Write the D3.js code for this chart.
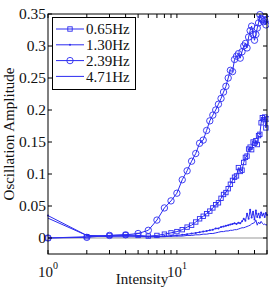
<!DOCTYPE html>
<html>
<head>
<meta charset="utf-8">
<script src="https://d3js.org/d3.v7.min.js"></script>
<style>
  body { margin: 0; background: #fff; }
  svg { display: block; }
  text { font-family: "Liberation Serif", "Times New Roman", serif; fill: #111; }
</style>
</head>
<body>
<div id="chart"></div>
<script>
// DATA
var intensity = [1, 2, 3, 4, 5, 6, 7, 8, 9, 10, 11, 12, 13, 14, 15, 16, 17, 18, 19, 20,
  21, 22, 23, 24, 25, 26, 27, 28, 29, 30, 31, 32, 33, 34, 35, 36, 37, 38, 39, 40,
  41, 42, 43, 44, 45, 46, 47, 48, 49, 50];

var amp065 = [0, 0.002, 0.004, 0.005, 0.004, 0.003, 0.004, 0.006, 0.008, 0.010,
  0.013, 0.017, 0.020, 0.025, 0.030, 0.034, 0.038, 0.042, 0.047, 0.052,
  0.055, 0.062, 0.068, 0.071, 0.077, 0.084, 0.090, 0.095, 0.097, 0.110,
  0.104, 0.106, 0.118, 0.126, 0.128, 0.139, 0.142, 0.138, 0.150, 0.148,
  0.152, 0.146, 0.160, 0.162, 0.180, 0.188, 0.185, 0.189, 0.172, 0.186];

var amp130 = [0.035, 0.004, 0.003, 0.004, 0.003, 0.002, 0.002, 0.003, 0.003, 0.004,
  0.005, 0.006, 0.007, 0.008, 0.009, 0.010, 0.011, 0.012, 0.013, 0.015,
  0.015, 0.017, 0.018, 0.019, 0.020, 0.021, 0.022, 0.023, 0.022, 0.024,
  0.023, 0.026, 0.030, 0.027, 0.038, 0.030, 0.044, 0.032, 0.041, 0.029,
  0.043, 0.033, 0.038, 0.032, 0.040, 0.035, 0.038, 0.033, 0.039, 0.036];

var amp239 = [0, 0.001, 0.004, 0.005, 0.007, 0.012, 0.028, 0.047, 0.058, 0.070,
  0.091, 0.105, 0.120, 0.132, 0.148, 0.153, 0.168, 0.183, 0.192, 0.200,
  0.209, 0.218, 0.228, 0.237, 0.250, 0.262, 0.260, 0.279, 0.284, 0.288,
  0.281, 0.291, 0.300, 0.304, 0.297, 0.314, 0.324, 0.331, 0.318, 0.309,
  0.318, 0.328, 0.336, 0.349, 0.343, 0.341, 0.338, 0.340, 0.333, 0.342];

var amp471 = [0.031, 0.004, 0.002, 0.002, 0.002, 0.002, 0.002, 0.002, 0.003, 0.003,
  0.003, 0.004, 0.004, 0.005, 0.005, 0.006, 0.006, 0.007, 0.007, 0.008,
  0.009, 0.010, 0.010, 0.011, 0.011, 0.012, 0.012, 0.013, 0.013, 0.014,
  0.015, 0.016, 0.016, 0.017, 0.018, 0.019, 0.020, 0.022, 0.023, 0.024,
  0.028, 0.020, 0.025, 0.022, 0.026, 0.023, 0.021, 0.022, 0.020, 0.021];

var seriesNames = ["0.65Hz", "1.30Hz", "2.39Hz", "4.71Hz"];
var seriesMarkers = ["square", "dot", "circle", "none"];
var yTicks = [0, 0.05, 0.1, 0.15, 0.2, 0.25, 0.3, 0.35];
var xMajorTicks = [1, 10];
var xMinorTicks = [2, 3, 4, 5, 6, 7, 8, 9, 20, 30, 40, 50];

// SIZES
var W = 269, H = 288;
var plotL = 48, plotR = 267, plotT = 14, plotB = 254;
var blue = "#2b2bf0";
var tickLen = 4;

var svg = d3.select("#chart")
  .append("svg")
  .attr("width", W)
  .attr("height", H)
;

var x = d3.scaleLog().domain([1, 50]).range([plotL, plotR]);
var y = d3.scaleLinear().domain([-0.025, 0.35]).range([plotB, plotT]);

var series = [amp065, amp130, amp239, amp471].map(function(vals, i) {
  return {
    name: seriesNames[i],
    marker: seriesMarkers[i],
    points: intensity.map(function(v, j) { return [v, vals[j]]; })
  };
});

// zero reference line
svg.append("line")
  .attr("x1", x(1)).attr("x2", x(50))
  .attr("y1", y(0)).attr("y2", y(0))
  .attr("stroke", "#999")
  .attr("stroke-width", 1.2)
;

var line = d3.line()
  .x(function(d) { return x(d[0]); })
  .y(function(d) { return y(d[1]); })
;

function drawMarker(g, type, cx, cy) {
  if (type == "circle") {
    g.append("circle").attr("cx", cx).attr("cy", cy).attr("r", 3.2)
      .attr("fill", "none").attr("stroke", blue).attr("stroke-width", 0.9);
  } else if (type == "square") {
    g.append("rect").attr("x", cx - 2.2).attr("y", cy - 2.2)
      .attr("width", 4.4).attr("height", 4.4)
      .attr("fill", "none").attr("stroke", blue).attr("stroke-width", 0.9);
  } else if (type == "dot") {
    g.append("circle").attr("cx", cx).attr("cy", cy).attr("r", 1)
      .attr("fill", blue);
  }
}

// draw each series, plain ones first
series.slice().reverse().forEach(function(s) {
  var g = svg.append("g").attr("class", "series");
  g.append("path")
    .attr("d", line(s.points))
    .attr("fill", "none")
    .attr("stroke", blue)
    .attr("stroke-width", 1)
  ;
  s.points.forEach(function(p) {
    drawMarker(g, s.marker, x(p[0]), y(p[1]));
  });
});

// AXES BOX
var axisG = svg.append("g").attr("stroke", "#000").attr("stroke-width", 1);

axisG.append("rect")
  .attr("x", plotL).attr("y", plotT)
  .attr("width", plotR - plotL).attr("height", plotB - plotT)
  .attr("fill", "none")
;

var allX = xMajorTicks.concat(xMinorTicks);
allX.forEach(function(t) {
  axisG.append("line").attr("x1", x(t)).attr("x2", x(t)).attr("y1", plotB).attr("y2", plotB - tickLen);
  axisG.append("line").attr("x1", x(t)).attr("x2", x(t)).attr("y1", plotT).attr("y2", plotT + tickLen);
});
yTicks.forEach(function(t) {
  axisG.append("line").attr("x1", plotL).attr("x2", plotL + tickLen).attr("y1", y(t)).attr("y2", y(t));
  axisG.append("line").attr("x1", plotR).attr("x2", plotR - tickLen).attr("y1", y(t)).attr("y2", y(t));
});

// y tick labels
svg.selectAll(".ylab")
  .data(yTicks)
  .enter()
  .append("text")
  .attr("class", "ylab")
  .attr("x", plotL - 2)
  .attr("y", function(d) { return y(d); })
  .attr("dy", "0.35em")
  .attr("text-anchor", "end")
  .style("font-size", "15.5px")
  .text(function(d) { return d == 0 ? "0" : String(d); })
;

// x tick labels 10^n
var xl = svg.selectAll(".xlab")
  .data(xMajorTicks)
  .enter()
  .append("text")
  .attr("class", "xlab")
  .attr("x", function(d) { return x(d) - 10; })
  .attr("y", 277)
  .style("font-size", "15px")
;
xl.append("tspan").text("10");
xl.append("tspan")
  .attr("dy", -8)
  .style("font-size", "10px")
  .text(function(d) { return String(Math.round(Math.log10(d))); })
;

// axis titles
svg.append("text")
  .attr("x", 142)
  .attr("y", 284)
  .attr("text-anchor", "middle")
  .style("font-size", "15px")
  .text("Intensity")
;
svg.append("text")
  .attr("transform", "translate(14,134) rotate(-90)")
  .attr("text-anchor", "middle")
  .style("font-size", "15px")
  .text("Oscillation Amplitude")
;

// LEGEND
var legend = svg.append("g");
legend.append("rect")
  .attr("x", 52.5).attr("y", 17.5)
  .attr("width", 83).attr("height", 72)
  .attr("fill", "#fff")
  .attr("stroke", "#000")
  .attr("stroke-width", 1)
;
series.forEach(function(s, i) {
  var ly = 29 + i * 15.8;
  legend.append("line")
    .attr("x1", 56).attr("x2", 84)
    .attr("y1", ly).attr("y2", ly)
    .attr("stroke", blue)
    .attr("stroke-width", 1)
  ;
  drawMarker(legend, s.marker, 70, ly);
  legend.append("text")
    .attr("x", 86)
    .attr("y", ly)
    .attr("dy", "0.35em")
    .style("font-size", "15px")
    .text(s.name)
  ;
});
</script>
</body>
</html>
